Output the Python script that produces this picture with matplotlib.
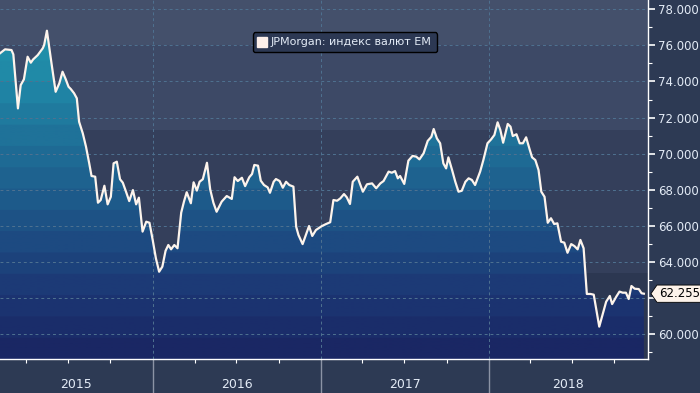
# Imports
import numpy as np
import pandas as pd
import matplotlib
matplotlib.use('Agg')
import matplotlib.pyplot as plt
import matplotlib.dates as mdates
from matplotlib import font_manager
from matplotlib.colors import LinearSegmentedColormap
from matplotlib.lines import Line2D
from matplotlib.path import Path

# Data: JPMorgan EM currency index
start = pd.Timestamp('2015-02-03')
day_offsets = [0, 11, 25, 29, 39, 45, 52, 60, 67, 72, 82, 93, 96, 102, 112, 121, 129, 136,
               143, 149, 154, 161, 167, 172, 180, 187, 194, 199, 207, 213, 219, 227, 234,
               241, 247, 254, 261, 267, 274, 281, 289, 296, 302, 310, 318, 325, 332, 339,
               346, 353, 360, 366, 372, 379, 386, 394, 400, 406, 415, 421, 428, 434, 441,
               450, 457, 464, 471, 482, 493, 504, 510, 517, 526, 533, 542, 548, 553, 561,
               567, 574, 582, 587, 595, 600, 608, 615, 622, 629, 638, 644, 649, 658, 665,
               672, 679, 687, 700, 709, 718, 725, 733, 740, 748, 754, 761, 767, 777, 789,
               798, 809, 818, 827, 834, 845, 852, 859, 865, 870, 879, 888, 897, 905, 912,
               921, 930, 938, 943, 950, 957, 964, 970, 975, 983, 990, 997, 1004, 1012,
               1019, 1026, 1033, 1044, 1051, 1060, 1068, 1075, 1082, 1088, 1094, 1104,
               1110, 1115, 1123, 1130, 1137, 1144, 1152, 1157, 1164, 1171, 1177, 1184,
               1191, 1198, 1205, 1212, 1220, 1227, 1234, 1242, 1249, 1256, 1262, 1269,
               1276, 1284, 1291, 1298, 1303, 1311, 1318, 1326, 1331, 1340, 1347, 1354,
               1361, 1367, 1373, 1380, 1389, 1395, 1400]
index_values = [75.56, 75.78, 75.74, 75.50, 72.51, 73.80, 74.12, 75.37, 75.04, 75.22, 75.46,
                75.84, 76.02, 76.81, 75.00, 73.43, 73.90, 74.54, 74.12, 73.71, 73.58, 73.35,
                73.07, 71.77, 71.13, 70.39, 69.47, 68.77, 68.73, 67.29, 67.44, 68.23, 67.20,
                67.62, 69.47, 69.56, 68.59, 68.40, 67.90, 67.38, 67.99, 67.20, 67.57, 65.69,
                66.24, 66.18, 65.23, 64.21, 63.47, 63.75, 64.63, 64.95, 64.71, 64.95, 64.77,
                66.74, 67.35, 67.87, 67.26, 68.42, 67.96, 68.45, 68.59, 69.50, 68.03, 67.29,
                66.79, 67.35, 67.66, 67.50, 68.70, 68.49, 68.67, 68.21, 68.70, 68.88, 69.38,
                69.34, 68.51, 68.27, 68.14, 67.84, 68.45, 68.60, 68.49, 68.12, 68.45, 68.27,
                68.18, 65.96, 65.50, 65.00, 65.50, 66.00, 65.45, 65.78, 66.00, 66.11, 66.21,
                67.44, 67.40, 67.53, 67.77, 67.59, 67.22, 68.45, 68.73, 67.90, 68.31, 68.36,
                68.09, 68.36, 68.49, 69.01, 68.95, 69.04, 68.64, 68.77, 68.33, 69.62, 69.88,
                69.84, 69.69, 70.02, 70.71, 70.94, 71.37, 70.85, 70.58, 69.47, 69.19, 69.80,
                69.10, 68.45, 67.90, 67.95, 68.45, 68.64, 68.55, 68.27, 69.01, 69.65, 70.58,
                70.80, 71.04, 71.74, 71.31, 70.61, 71.65, 71.50, 70.98, 71.08, 70.58, 70.58,
                70.91, 70.21, 69.80, 69.65, 69.10, 67.90, 67.62, 66.18, 66.43, 66.11, 66.15,
                65.13, 65.08, 64.52, 65.00, 64.89, 64.71, 65.23, 64.77, 62.24, 62.24, 62.20,
                61.17, 60.43, 61.17, 61.81, 62.13, 61.68, 62.09, 62.37, 62.31, 62.31, 61.96,
                62.68, 62.53, 62.51, 62.28, 62.255]
series_label = 'JPMorgan: индекс валют EM'
years = [2015, 2016, 2017, 2018]
yticks = [60, 62, 64, 66, 68, 70, 72, 74, 76, 78]

dates = start + pd.to_timedelta(day_offsets, unit='D')
values = np.array(index_values)

# Fonts: condensed font if available
names = {f.name for f in font_manager.fontManager.ttflist}
if 'Liberation Sans Narrow' in names:
    fam, fs = 'Liberation Sans Narrow', 10.5
else:
    fam, fs = 'DejaVu Sans', 8.5
plt.rcParams['font.family'] = fam

fig_bg = '#2d3a54'
txt_col = '#e3ebf6'

fig = plt.figure(figsize=(7.0, 3.93), dpi=100)
fig.patch.set_facecolor(fig_bg)
ax = fig.add_axes([0.0, 34 / 393, 648 / 700, 359 / 393])
ax.set_facecolor('#343f5b')

x0 = start
x1 = start + pd.Timedelta(days=1409)
ax.set_xlim(x0, x1)
ax.set_ylim(58.64, 78.51)

# background bands
ax.axhspan(76.0, 80, color='#44506b', zorder=0, lw=0)
ax.axhspan(71.3, 76.0, color='#3d4966', zorder=0, lw=0)
ax.axhspan(63.4, 71.3, color='#343f5b', zorder=0, lw=0)
ax.axhspan(55, 63.4, color='#2c3751', zorder=0, lw=0)

# gradient fill under the line
poly = ax.fill_between(dates, values, 55, color='none', lw=0, zorder=1)
cmap = LinearSegmentedColormap.from_list(
    'bbg', ['#1a2764', '#1c3674', '#1d4a81', '#1e5f8d', '#1f7299', '#2088a7', '#2292ab'], N=16)
grad = np.linspace(0, 1, 256).reshape(-1, 1)
ext = [mdates.date2num(x0), mdates.date2num(x1), 58.64, 77.5]
im = ax.imshow(grad, cmap=cmap, origin='lower', aspect='auto', extent=ext, zorder=1)
im.set_clip_path(poly.get_paths()[0], transform=ax.transData)
ax.set_xlim(x0, x1)
ax.set_ylim(58.64, 78.51)

# grid
for v in yticks:
    ax.axhline(v, color='#4f7291', lw=0.7, ls=(0, (3, 3)), zorder=2)
for y in years[1:]:
    ax.axvline(pd.Timestamp(f'{y}-01-01'), color='#4f7291', lw=0.7, ls=(0, (3, 3)), zorder=2)

# line
ax.plot(dates, values, color='#fdf4ec', lw=1.6, zorder=3, label=series_label)

# spines
for s in ['top', 'left']:
    ax.spines[s].set_visible(False)
ax.spines['right'].set_color('white')
ax.spines['bottom'].set_color('white')
ax.spines['right'].set_linewidth(1.0)
ax.spines['bottom'].set_linewidth(1.0)

# y axis on right (62 label sits under the last-value tag)
ax.yaxis.tick_right()
ax.set_yticks(yticks)
ax.set_yticklabels(['' if v == 62 else f'{v:.3f}' for v in yticks])
ax.set_yticks(np.arange(59, 79, 2), minor=True)
ax.tick_params(axis='y', which='major', direction='out', length=5, width=1.2,
               colors='white', labelcolor=txt_col, labelsize=fs, pad=2)
ax.tick_params(axis='y', which='minor', direction='out', length=3, width=0.8, colors='white')

# x axis: year separators + quarter ticks
ax.set_xticks([pd.Timestamp(f'{y}-01-01') for y in years[1:]])
ax.set_xticklabels([])
ax.tick_params(axis='x', which='major', direction='out', length=25, width=1.0, colors='#8b93a5')
qticks = [pd.Timestamp(f'{y}-{m:02d}-01') for y in years for m in (4, 7, 10)]
qticks = [q for q in qticks if x0 < q < x1]
ax.set_xticks(qticks, minor=True)
ax.tick_params(axis='x', which='minor', direction='out', length=3, width=0.8, colors='white')

for y in years:
    lo = max(pd.Timestamp(f'{y}-01-01'), x0)
    hi = min(pd.Timestamp(f'{y + 1}-01-01'), x1)
    mid = lo + (hi - lo) / 2
    ax.text(mid, -0.072, str(y), transform=ax.get_xaxis_transform(), ha='center', va='center',
            color=txt_col, fontsize=fs + 0.5)

# legend
handle = Line2D([], [], marker='s', color='#fdf0ea', ls='none', markersize=7)
leg = ax.legend([handle], [series_label], loc='upper center', bbox_to_anchor=(0.532, 0.925),
                frameon=True, fancybox=True, facecolor='#2c3853', edgecolor='black',
                framealpha=1, fontsize=fs - 0.5, handlelength=0.8, handletextpad=0.4,
                borderpad=0.45)
for t in leg.get_texts():
    t.set_color(txt_col)
leg.get_frame().set_linewidth(1.0)


# last value tag
def tag_box(x0, y0, width, height, mutation_size):
    pad = mutation_size * 0.18
    xa, ya = x0 - pad, y0 - pad
    xb, yb = x0 + width + pad, y0 + height + pad
    h = (yb - ya) / 2
    verts = [(xa, ya), (xb, ya), (xb, yb), (xa, yb), (xa - h * 0.7, ya + h), (xa, ya)]
    return Path(verts, closed=True)


ax.annotate(f'{values[-1]:.3f}', xy=(1.0, values[-1]), xycoords=ax.get_yaxis_transform(),
            xytext=(8, 0), textcoords='offset points', ha='left', va='center',
            color='black', fontsize=fs,
            bbox=dict(boxstyle=tag_box, fc='#fdf3ea', ec='black', lw=0.6),
            annotation_clip=False, zorder=5)

fig.savefig('out.png', dpi=100, facecolor=fig_bg)
